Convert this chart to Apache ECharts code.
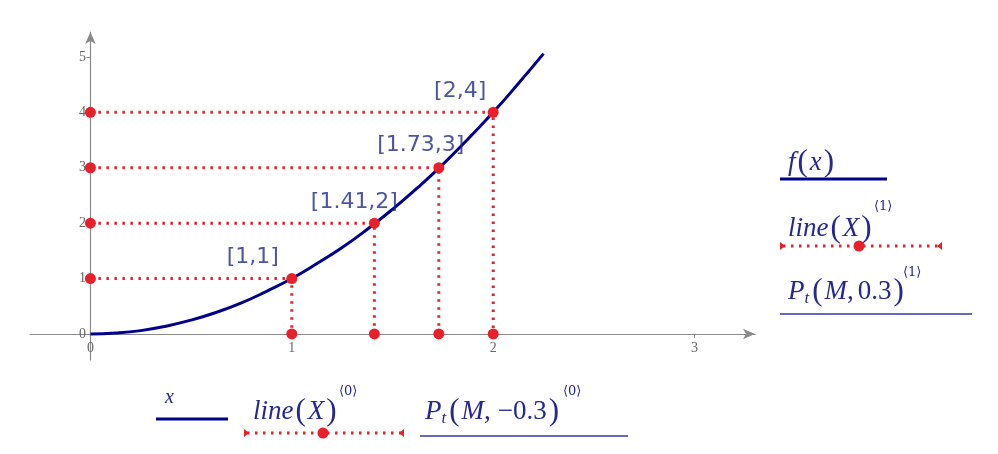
<!DOCTYPE html>
<html><head><meta charset="utf-8">
<script src="https://cdn.jsdelivr.net/npm/echarts@6/dist/echarts.min.js"></script>
<style>html,body{margin:0;padding:0;background:#fff}#c{width:998px;height:454px}</style>
</head><body><div id="c"></div>
<script>
// ---- data ----
const curveX = [0, 0.125, 0.25, 0.375, 0.5, 0.625, 0.75, 0.875, 1, 1.125, 1.25, 1.375, 1.5, 1.625, 1.75, 1.875, 2, 2.125, 2.25];
const curveY = [0, 0.016, 0.06, 0.14, 0.25, 0.39, 0.56, 0.77, 1, 1.27, 1.56, 1.89, 2.25, 2.64, 3.06, 3.52, 4, 4.52, 5.06];
const pointX = [1, 1.41, 1.73, 2];
const pointY = [1, 2, 3, 4];
const pointLabels = ['[1,1]', '[1.41,2]', '[1.73,3]', '[2,4]'];
const xTicks = [0, 1, 2, 3];
const yTicks = [0, 1, 2, 3, 4, 5];

// ---- layout / style ----
const labelOffsets = [[-39, -21], [-20, -21], [-18, -22], [-33, -21]];
const RED = '#e8202a', NAVY = '#00008b', TXT = '#27288f', LBL = '#1f2a8a', PLINE = '#3434a6', AX = '#8a8a8a';

const chart = echarts.init(document.getElementById('c'));

const guideSeries = pointX.map((x, i) => ({
  type: 'line',
  data: [[0, pointY[i]], [x, pointY[i]], [x, 0]],
  symbol: 'circle', symbolSize: 11, showSymbol: true,
  itemStyle: { color: RED },
  lineStyle: { color: RED, width: 3, type: [2.5, 5.5] },
  z: 5, silent: true
}));

const rich = {
  i: { fontFamily: 'Liberation Serif', fontStyle: 'italic', fontSize: 27, fill: TXT },
  n: { fontFamily: 'Liberation Serif', fontSize: 31, fill: TXT, padding: [0, 2, 0, 2] },
  c: { fontFamily: 'Liberation Serif', fontSize: 27, fill: TXT, padding: [0, 4, 0, 0] },
  cc: { fontFamily: 'Liberation Serif', fontSize: 27, fill: TXT, padding: [0, 7, 0, 0] },
  b: { fontFamily: 'Liberation Serif', fontSize: 27, fill: TXT },
  s: { fontFamily: 'Liberation Serif', fontStyle: 'italic', fontSize: 17, fill: TXT, verticalAlign: 'bottom', padding: [0, 1, 0, 0] }
};
function txt(x, y, text, extra) {
  return { type: 'text', x: x, y: y, z: 10, style: Object.assign({ text: text, rich: rich, textVerticalAlign: 'middle', fill: TXT }, extra || {}) };
}
function sup(x, y, t) {
  return { type: 'text', x: x, y: y, z: 10, style: { text: t, font: '13px "DejaVu Serif"', fill: TXT, textVerticalAlign: 'middle' } };
}
function hline(x1, x2, y, color, w, dash) {
  return { type: 'line', z: 10, shape: { x1: x1, y1: y, x2: x2, y2: y }, style: { stroke: color, lineWidth: w, lineDash: dash || null } };
}
function dotLegend(x1, x2, xc, y) {
  return [
    hline(x1 + 3, x2 - 3, y, RED, 3, [2.5, 5.5]),
    { type: 'circle', z: 11, shape: { cx: xc, cy: y, r: 5.5 }, style: { fill: RED } },
    { type: 'polygon', z: 11, shape: { points: [[x1, y - 4], [x1, y + 4], [x1 + 5, y]] }, style: { fill: RED } },
    { type: 'polygon', z: 11, shape: { points: [[x2, y - 4], [x2, y + 4], [x2 - 5, y]] }, style: { fill: RED } }
  ];
}

const graphics = [
  // right legend
  txt(788, 163, '{i|f}{n|(}{i|x}{n|)}', {}),
  hline(780, 887, 179, NAVY, 3),
  txt(788, 229, '{i|line}{n|(}{i|X}{n|)}'),
  sup(874, 207, '\u27E81\u27E9'),
  ...dotLegend(780, 942, 859, 246),
  txt(788, 292, '{i|P}{s|t}{n|(}{i|M}{c|,}{b|0.3}{n|)}'),
  sup(903, 273, '\u27E81\u27E9'),
  hline(780, 972, 314, PLINE, 1.5),
  // bottom legend
  txt(165, 398, '{x|x}', { rich: { x: { fontFamily: 'Liberation Serif', fontStyle: 'italic', fontSize: 20, fill: TXT } } }),
  hline(156, 228, 419, NAVY, 3),
  txt(253, 412, '{i|line}{n|(}{i|X}{n|)}'),
  sup(339, 392, '\u27E80\u27E9'),
  ...dotLegend(244, 404, 323, 433),
  txt(425, 412, '{i|P}{s|t}{n|(}{i|M}{cc|,}{b|\u22120.3}{n|)}'),
  sup(563, 392, '\u27E80\u27E9'),
  hline(420, 628, 436, PLINE, 1.5)
];

const option = {
  animation: false,
  backgroundColor: '#fff',
  grid: { left: 30, top: 32, width: 725, height: 328, containLabel: false, outerBoundsMode: 'none' },
  xAxis: {
    type: 'value', min: -0.3, max: 3.3,
    axisLine: { onZero: true, symbol: ['none', 'arrow'], symbolSize: [8, 12], lineStyle: { color: AX, width: 1.2 } },
    axisTick: { show: true, customValues: xTicks, length: 4, lineStyle: { color: AX } },
    axisLabel: { customValues: xTicks, color: '#666', fontFamily: 'Liberation Serif', fontSize: 14, margin: -19 },
    splitLine: { show: false }
  },
  yAxis: {
    type: 'value', min: -0.47, max: 5.45,
    axisLine: { onZero: true, symbol: ['none', 'arrow'], symbolSize: [8, 12], lineStyle: { color: AX, width: 1.2 } },
    axisTick: { show: true, customValues: yTicks, length: 4, lineStyle: { color: AX } },
    axisLabel: { customValues: yTicks, color: '#666', fontFamily: 'Liberation Serif', fontSize: 14, margin: -56 },
    splitLine: { show: false }
  },
  series: [
    {
      type: 'line', data: curveX.map((x, i) => [x, curveY[i]]), smooth: true, showSymbol: false,
      lineStyle: { color: NAVY, width: 3 }, z: 3, silent: true
    },
    ...guideSeries,
    {
      type: 'scatter', symbolSize: 1, itemStyle: { color: 'rgba(0,0,0,0)' }, z: 6, silent: true,
      data: pointX.map((x, i) => ({ value: [x, pointY[i]], label: { offset: labelOffsets[i] } })),
      label: { show: true, position: 'inside', formatter: p => pointLabels[p.dataIndex], fontFamily: 'DejaVu Sans', fontSize: 22, color: LBL }
    }
  ],
  graphic: graphics
};
chart.setOption(option);
</script></body></html>
